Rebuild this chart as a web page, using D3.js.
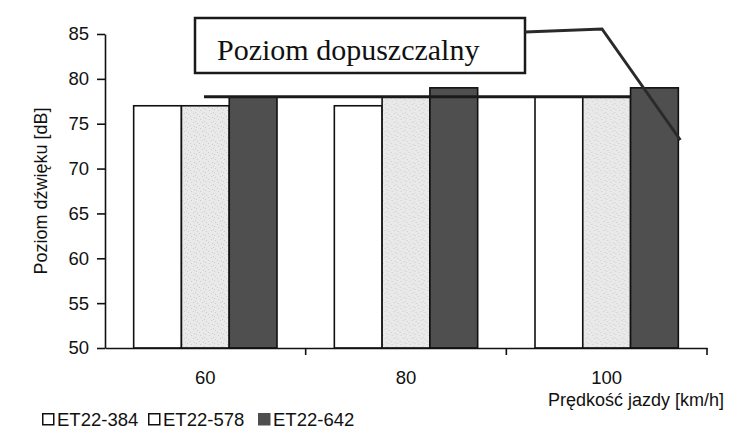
<!DOCTYPE html>
<html><head><meta charset="utf-8">
<script src="https://cdn.jsdelivr.net/npm/d3@7/dist/d3.min.js"></script>
<style>html,body{margin:0;padding:0;background:#fff;}svg{display:block;}</style>
</head><body>
<svg id="chart" width="744" height="446"></svg>
<script>
const categories = ["60", "80", "100"];
const seriesNames = ["ET22-384", "ET22-578", "ET22-642"];
const et22_384 = [77, 77, 78];
const et22_578 = [77, 78, 78];
const et22_642 = [78, 79, 79];
const yTicks = [50, 55, 60, 65, 70, 75, 80, 85];
const limitValue = 78;
const limitLabel = "Poziom dopuszczalny";
const yTitle = "Poziom dźwięku [dB]";
const xTitle = "Prędkość jazdy [km/h]";

(function () {
const seriesValues = [et22_384, et22_578, et22_642];
const fills = ["#ffffff", "url(#stipple)", "#4f4f4f"];
const sans = "Liberation Sans, Arial, sans-serif";

const svg = d3.select("#chart");
const defs = svg.append("defs");
const pat = defs.append("pattern").attr("id", "stipple").attr("patternUnits", "userSpaceOnUse")
  .attr("width", 9).attr("height", 9);
pat.append("rect").attr("width", 9).attr("height", 9).attr("fill", "#e9e9e9");
[[1,1],[5,2],[2,6],[7,5],[4,8],[0,4],[8,0]].forEach(([a,b]) =>
  pat.append("rect").attr("x", a).attr("y", b).attr("width", 1).attr("height", 1).attr("fill", "#cdcdcd"));

const mLeft = 105, mRight = 707, mTop = 34, mBottom = 348;
const y = d3.scaleLinear().domain([50, 85]).range([mBottom, mTop]);
const x = d3.scaleBand().domain(categories).range([mLeft, mRight]).paddingInner(0).paddingOuter(0);
const x1 = d3.scaleBand().domain(seriesNames).range([0, x.bandwidth()]).paddingInner(0).paddingOuter(0.6);

// bars
const groups = svg.append("g").selectAll("g").data(categories).join("g")
  .attr("transform", d => `translate(${x(d)},0)`);
groups.selectAll("rect").data((c, ci) => seriesNames.map((s, si) => ({s, si, v: seriesValues[si][ci]})))
  .join("rect")
  .attr("x", d => x1(d.s))
  .attr("y", d => y(d.v))
  .attr("width", x1.bandwidth())
  .attr("height", d => mBottom - y(d.v))
  .attr("fill", d => fills[d.si])
  .attr("stroke", "#111")
  .attr("stroke-width", 1.6);

// y axis
const yAxis = svg.append("g").attr("transform", `translate(${mLeft},0)`)
  .call(d3.axisLeft(y).tickValues(yTicks).tickSize(8).tickPadding(8).tickSizeOuter(0));
yAxis.select(".domain").attr("stroke", "#111").attr("stroke-width", 1.6);
yAxis.selectAll(".tick line").attr("stroke", "#111").attr("stroke-width", 1.6);
yAxis.selectAll("text").attr("font-family", sans).attr("font-size", 18.5).attr("fill", "#111");

// x axis
const xAxis = svg.append("g").attr("transform", `translate(0,${mBottom})`)
  .call(d3.axisBottom(x).tickSize(0).tickPadding(23).tickSizeOuter(0));
xAxis.select(".domain").attr("stroke", "#111").attr("stroke-width", 1.6);
xAxis.selectAll("text").attr("font-family", sans).attr("font-size", 18.5).attr("fill", "#111");
svg.append("g").selectAll("line").data(categories).join("line")
  .attr("x1", d => x(d) + x.bandwidth()).attr("x2", d => x(d) + x.bandwidth())
  .attr("y1", mBottom).attr("y2", mBottom + 7)
  .attr("stroke", "#111").attr("stroke-width", 1.6);

// limit line
svg.append("line").attr("x1", 204).attr("x2", x("100") + x1("ET22-642"))
  .attr("y1", y(limitValue)).attr("y2", y(limitValue))
  .attr("stroke", "#1a1a1a").attr("stroke-width", 3);

// annotation box
svg.append("rect").attr("x", 195).attr("y", 18).attr("width", 330).attr("height", 55)
  .attr("fill", "#fff").attr("stroke", "#1a1a1a").attr("stroke-width", 2.5);
svg.append("text").attr("x", 217).attr("y", 60).text(limitLabel)
  .attr("font-family", "Liberation Serif, Times New Roman, serif").attr("font-size", 30).attr("fill", "#111");
svg.append("polyline")
  .attr("points", `525,32 602,29 ${x("100") + x1("ET22-642") + x1.bandwidth() + 2},140`)
  .attr("fill", "none").attr("stroke", "#2a2a2a").attr("stroke-width", 3);

// axis titles
svg.append("text").attr("transform", "translate(47,191) rotate(-90)").attr("text-anchor", "middle")
  .text(yTitle).attr("font-family", sans).attr("font-size", 18).attr("fill", "#111");
svg.append("text").attr("x", 724).attr("y", 406).attr("text-anchor", "end")
  .text(xTitle).attr("font-family", sans).attr("font-size", 18).attr("fill", "#111");

// legend
const legX = [42, 148, 258];
const leg = svg.append("g").selectAll("g").data(seriesNames).join("g")
  .attr("transform", (d, i) => `translate(${legX[i]},413)`);
leg.append("rect").attr("x", 0.75).attr("y", 0.75).attr("width", 11).attr("height", 11)
  .attr("fill", (d, i) => i === 2 ? "#4f4f4f" : "#fff")
  .attr("stroke", (d, i) => i === 2 ? "#4f4f4f" : "#111").attr("stroke-width", 1.5);
leg.append("text").attr("x", 15).attr("y", 12.8).text(d => d)
  .attr("font-family", sans).attr("font-size", 18.5).attr("fill", "#111");
})();
</script>
</body></html>
